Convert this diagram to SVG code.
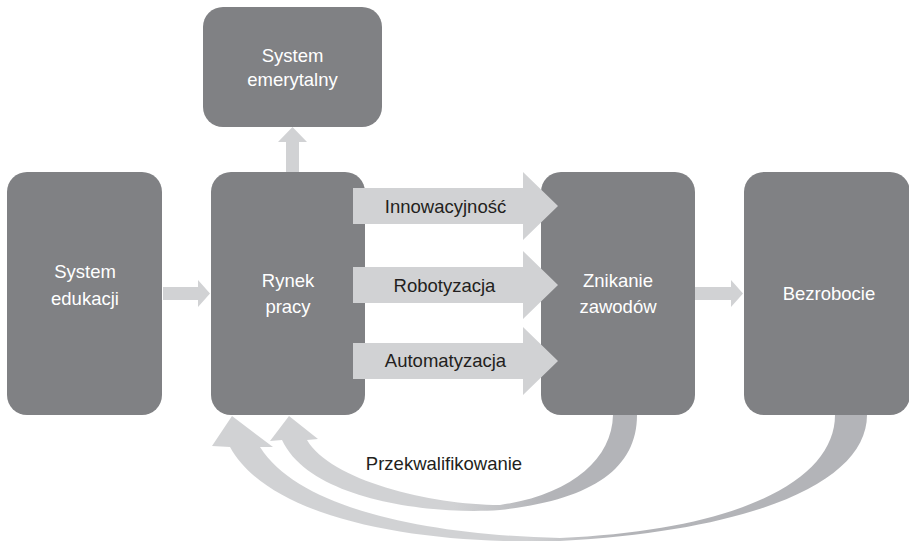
<svg xmlns="http://www.w3.org/2000/svg" width="909" height="541" viewBox="0 0 909 541">
<defs>
<style>
.box{fill:#808184}
.arr{fill:#d1d2d4}
.wt{font-family:"Liberation Sans",Arial,sans-serif;font-size:18.5px;fill:#ffffff;text-anchor:middle}
.dt{font-family:"Liberation Sans",Arial,sans-serif;font-size:18.5px;fill:#231f20;text-anchor:middle}
</style>
<linearGradient id="gIn" gradientUnits="userSpaceOnUse" x1="270" y1="0" x2="637" y2="0">
<stop offset="0" stop-color="#d1d2d4"/>
<stop offset="0.5" stop-color="#d1d2d4"/>
<stop offset="0.75" stop-color="#b3b4b8"/>
<stop offset="1" stop-color="#b3b4b8"/>
</linearGradient>
<linearGradient id="gOut" gradientUnits="userSpaceOnUse" x1="212" y1="0" x2="867" y2="0">
<stop offset="0" stop-color="#d1d2d4"/>
<stop offset="0.48" stop-color="#d1d2d4"/>
<stop offset="0.62" stop-color="#b3b4b8"/>
<stop offset="1" stop-color="#b3b4b8"/>
</linearGradient>
</defs>
<rect width="909" height="541" fill="#ffffff"/>
<g id="system-emerytalny">
<rect class="box" x="203" y="7" width="179" height="120" rx="20"/>
<text class="wt" x="292.5" y="62">System</text>
<text class="wt" x="292.5" y="86">emerytalny</text>
</g>
<g id="system-edukacji">
<rect class="box" x="7" y="172" width="155" height="243" rx="20"/>
<text class="wt" x="85" y="278">System</text>
<text class="wt" x="85" y="305">edukacji</text>
</g>
<g id="rynek-pracy">
<rect class="box" x="211" y="172" width="154" height="243" rx="20"/>
<text class="wt" x="288" y="287">Rynek</text>
<text class="wt" x="288" y="313">pracy</text>
</g>
<g id="znikanie-zawodow">
<rect class="box" x="541" y="172" width="154" height="243" rx="20"/>
<text class="wt" x="618" y="287">Znikanie</text>
<text class="wt" x="618" y="313">zawodów</text>
</g>
<g id="bezrobocie">
<rect class="box" x="744" y="172" width="166" height="243" rx="20"/>
<text class="wt" x="829" y="300">Bezrobocie</text>
</g>
<g id="connectors">
<polygon class="arr" points="286,172 286,142 278,142 292.5,127 307,142 299,142 299,172"/>
<polygon class="arr" points="163,287 198,287 198,280 210,293.5 198,307 198,300 163,300"/>
<polygon class="arr" points="695,287 731,287 731,280 743,293.5 731,307 731,300 695,300"/>
<polygon class="arr" points="353,188 523,188 523,172 558,206 523,240 523,224 353,224"/>
<polygon class="arr" points="353,267 523,267 523,251 558,285 523,319 523,303 353,303"/>
<polygon class="arr" points="353,343 523,343 523,327 558,361 523,395 523,379 353,379"/>
<path fill="url(#gIn)" d="M637 415 C637 470 590 500 500 510 C430 515 310 500 282 440 L270 441 L289 416 L318 439 L307 440 C330 480 430 505 500 505 C570 495 612 460 613 415 Z"/>
<path fill="url(#gOut)" d="M867 415 C867 480 760 530 560 541 C420 545 270 520 230 447 L212 446 L232 416 L273 447 L260 447 C300 510 430 535 560 538 C740 530 835 480 835 415 Z"/>
<text class="dt" x="445.5" y="213">Innowacyjność</text>
<text class="dt" x="444.5" y="291.5">Robotyzacja</text>
<text class="dt" x="445.5" y="367">Automatyzacja</text>
<text class="dt" x="444" y="470">Przekwalifikowanie</text>
</g>
</svg>
